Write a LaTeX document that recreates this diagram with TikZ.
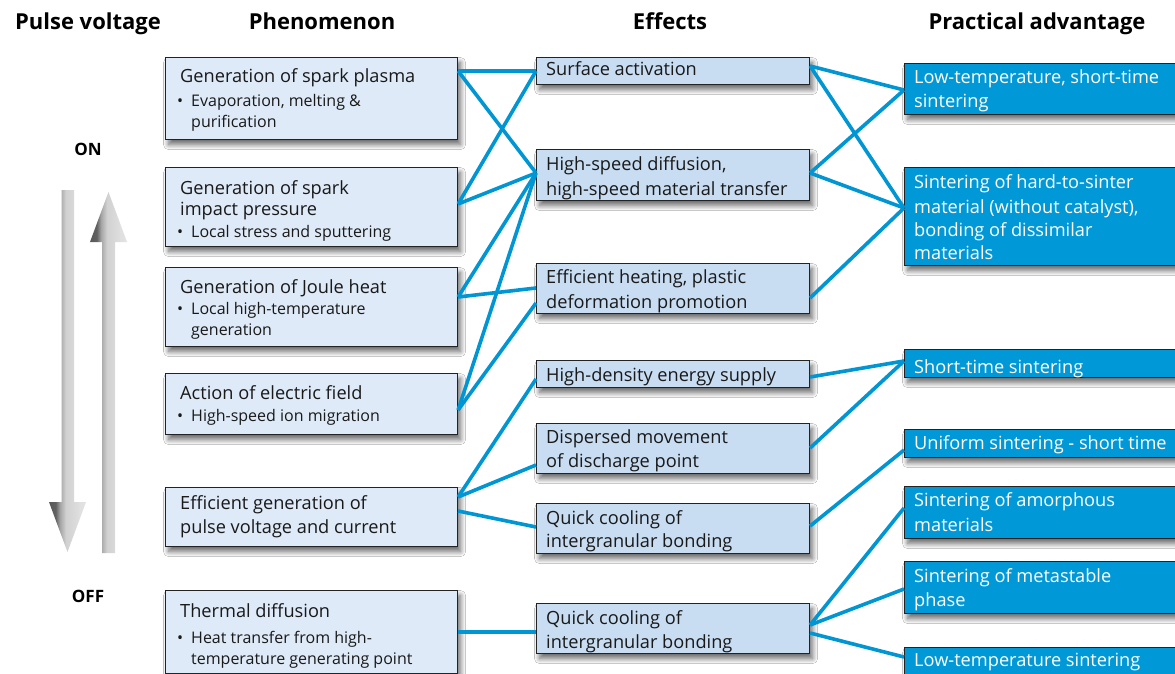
\documentclass[tikz,border=0pt]{standalone}
\usepackage{fontspec}
\setmainfont{Open Sans}
\usetikzlibrary{calc,shadows.blur}
\definecolor{lnk}{RGB}{0,150,212}
\definecolor{pfill}{RGB}{222,234,248}
\definecolor{efill}{RGB}{200,220,242}
\definecolor{afill}{RGB}{0,152,214}
\definecolor{bord}{RGB}{35,35,35}
\pgfdeclarehorizontalshading{arrowshade}{100bp}{color(0bp)=(black!75); color(34bp)=(black!62); color(40bp)=(black!35); color(48bp)=(black!18); color(68bp)=(black!12); color(100bp)=(black!8)}
\tikzset{
 box/.style={draw=bord, line width=1.1pt, anchor=north west, inner sep=0pt,
   blur shadow={shadow xshift=3pt, shadow yshift=-5pt, shadow blur radius=5pt, shadow opacity=60, shadow blur steps=12}},
 pbox/.style={box, fill=pfill},
 ebox/.style={box, fill=efill},
 abox/.style={box, fill=afill},
 ttl/.style={anchor=base west, inner sep=0pt, font=\fontsize{18.2}{22}\selectfont, text=black!90, yshift=-1pt},
 sub/.style={anchor=base west, inner sep=0pt, font=\fontsize{16}{20}\selectfont, text=black!90, yshift=-1pt},
 wtx/.style={anchor=base west, inner sep=0pt, font=\fontsize{18.2}{22}\selectfont, text=white, yshift=-1pt},
 hdr/.style={anchor=base, inner sep=0pt, font=\bfseries\fontsize{22}{26}\selectfont},
 onoff/.style={anchor=base, inner sep=0pt, font=\bfseries\fontsize{17}{20}\selectfont},
 link/.style={draw=lnk, line width=3.6pt},
 grayarrow/.style={shading=arrowshade, draw=none},
}
\newcommand{\bul}{\makebox[14pt][l]{\textbullet}}
\begin{document}
\begin{tikzpicture}[x=1pt,y=-1pt]
\useasboundingbox (0,0) rectangle (1175,674);
\fill[white] (0,0) rectangle (1175,674);

% headers
\node[hdr] (h1) at (88,30) {Pulse voltage};
\node[hdr] (h2) at (322,30) {Phenomenon};
\node[hdr] (h3) at (670,30) {Effects};
\node[hdr] (h4) at (1037,30) {Practical advantage};
\node[onoff] (on) at (88,156) {ON};
\node[onoff] (off) at (88,602) {OFF};

% gray arrows
\shade[grayarrow] (61.5,190) -- (74,190) -- (74,502) -- (86,502) -- (67.5,552) -- (49,502) -- (61.5,502) -- cycle;
\shade[grayarrow] (102,553) -- (115,553) -- (115,242) -- (127,242) -- (108.5,192) -- (90,242) -- (102,242) -- cycle;

% phenomenon boxes
\node[pbox, minimum width=292pt, minimum height=82pt] (p1) at (165,57) {};
\node[pbox, minimum width=292pt, minimum height=79pt] (p2) at (165,167) {};
\node[pbox, minimum width=292pt, minimum height=79pt] (p3) at (165,267) {};
\node[pbox, minimum width=292pt, minimum height=61pt] (p4) at (165,373) {};
\node[pbox, minimum width=292pt, minimum height=59pt] (p5) at (165,487) {};
\node[pbox, minimum width=292pt, minimum height=83pt] (p6) at (165,590) {};

% effects boxes
\node[ebox, minimum width=273pt, minimum height=27pt] (sa) at (536,57) {};
\node[ebox, minimum width=273pt, minimum height=51pt] (hsd) at (536,149) {};
\node[ebox, minimum width=273pt, minimum height=50pt] (eh) at (536,263) {};
\node[ebox, minimum width=273pt, minimum height=27pt] (hd) at (536,360) {};
\node[ebox, minimum width=273pt, minimum height=50pt] (dm) at (536,423) {};
\node[ebox, minimum width=273pt, minimum height=50pt] (qa) at (536,503) {};
\node[ebox, minimum width=273pt, minimum height=50pt] (qb) at (536,603) {};

% advantage boxes
\node[abox, minimum width=276pt, minimum height=51pt] (lts) at (904,63) {};
\node[abox, minimum width=276pt, minimum height=98pt] (hts) at (904,167) {};
\node[abox, minimum width=276pt, minimum height=28pt] (sts) at (904,349) {};
\node[abox, minimum width=276pt, minimum height=28pt] (us) at (904,429) {};
\node[abox, minimum width=276pt, minimum height=52pt] (am) at (904,486) {};
\node[abox, minimum width=276pt, minimum height=52pt] (ms) at (904,561) {};
\node[abox, minimum width=276pt, minimum height=30pt] (lt) at (904,647) {};

% phenomenon texts
\node[ttl] (p1a) at (180,82) {Generation of spark plasma};
\node[sub] (p1b) at (177,106) {\bul Evaporation, melting \&};
\node[sub] (p1c) at (191,127) {purification};
\node[ttl] (p2a) at (180,193) {Generation of spark};
\node[ttl] (p2b) at (180,214) {impact pressure};
\node[sub] (p2c) at (177,236) {\bul Local stress and sputtering};
\node[ttl] (p3a) at (180,292) {Generation of Joule heat};
\node[sub] (p3b) at (177,313) {\bul Local high-temperature};
\node[sub] (p3c) at (191,334) {generation};
\node[ttl] (p4a) at (180,398) {Action of electric field};
\node[sub] (p4b) at (177,420) {\bul High-speed ion migration};
\node[ttl] (p5a) at (180,508) {Efficient generation of};
\node[ttl] (p5b) at (180,532) {pulse voltage and current};
\node[ttl] (p6a) at (180,616) {Thermal diffusion};
\node[sub] (p6b) at (177,642) {\bul Heat transfer from high-};
\node[sub] (p6c) at (191,663) {temperature generating point};

% effects texts
\node[ttl] (sat) at (546,75) {Surface activation};
\node[ttl] (hsda) at (546,170) {High-speed diffusion,};
\node[ttl] (hsdb) at (546,194) {high-speed material transfer};
\node[ttl] (eha) at (546,282) {Efficient heating, plastic};
\node[ttl] (ehb) at (546,307) {deformation promotion};
\node[ttl] (hdt) at (546,380) {High-density energy supply};
\node[ttl] (dma) at (546,442) {Dispersed movement};
\node[ttl] (dmb) at (546,466) {of discharge point};
\node[ttl] (qaa) at (546,523) {Quick cooling of};
\node[ttl] (qab) at (546,546) {intergranular bonding};
\node[ttl] (qba) at (546,623) {Quick cooling of};
\node[ttl] (qbb) at (546,647) {intergranular bonding};

% advantage texts
\node[wtx] (ltsa) at (914,83) {Low-temperature, short-time};
\node[wtx] (ltsb) at (914,107) {sintering};
\node[wtx] (htsa) at (914,187) {Sintering of hard-to-sinter};
\node[wtx] (htsb) at (914,212) {material (without catalyst),};
\node[wtx] (htsc) at (914,235) {bonding of dissimilar};
\node[wtx] (htsd) at (914,258) {materials};
\node[wtx] (stst) at (914,372) {Short-time sintering};
\node[wtx] (ust) at (914,448) {Uniform sintering - short time};
\node[wtx] (ama) at (914,505) {Sintering of amorphous};
\node[wtx] (amb) at (914,530) {materials};
\node[wtx] (msa) at (914,581) {Sintering of metastable};
\node[wtx] (msb) at (914,605) {phase};
\node[wtx] (ltt) at (914,665) {Low-temperature sintering};

% connectors phenomenon -> effects
\draw[link] ($(p1.north east)+(0,14)$) -- (sa.west);
\draw[link] ($(p1.north east)+(0,14)$) -- ($(hsd.north west)+(0,24)$);
\draw[link] (sa.west) -- ($(p2.north east)+(0,37)$);
\draw[link] ($(p2.north east)+(0,37)$) -- ($(hsd.north west)+(0,24)$);
\draw[link] ($(p3.north east)+(0,30)$) -- ($(hsd.north west)+(0,24)$);
\draw[link] ($(p3.north east)+(0,30)$) -- ($(eh.north west)+(0,25)$);
\draw[link] ($(p4.north east)+(0,37)$) -- ($(hsd.north west)+(0,24)$);
\draw[link] ($(p4.north east)+(0,37)$) -- ($(eh.north west)+(0,40)$);
\draw[link] ($(p5.north east)+(0,10)$) -- ($(hd.north west)+(0,19)$);
\draw[link] ($(p5.north east)+(0,10)$) -- ($(dm.north west)+(0,42)$);
\draw[link] ($(p5.north east)+(0,24)$) -- ($(qa.north west)+(0,24)$);
\draw[link] ($(p6.north east)+(0,42)$) -- ($(qb.north west)+(0,29)$);

% connectors effects -> advantages
\draw[link] ($(sa.north east)+(0,9)$) -- ($(lts.north west)+(0,27)$);
\draw[link] ($(sa.north east)+(0,9)$) -- ($(hts.north west)+(0,41)$);
\draw[link] ($(hsd.north east)+(0,24)$) -- ($(lts.north west)+(0,27)$);
\draw[link] ($(hsd.north east)+(0,24)$) -- ($(hts.north west)+(0,41)$);
\draw[link] ($(eh.north east)+(0,35)$) -- ($(hts.north west)+(0,41)$);
\draw[link] ($(hd.north east)+(0,17)$) -- ($(sts.north west)+(0,12)$);
\draw[link] ($(dm.north east)+(0,25)$) -- ($(sts.north west)+(0,12)$);
\draw[link] ($(qa.north east)+(0,23)$) -- ($(us.north west)+(0,21)$);
\draw[link] ($(qb.north east)+(0,22)$) -- ($(am.north west)+(0,22)$);
\draw[link] ($(qb.north east)+(0,22)$) -- ($(ms.north west)+(0,28)$);
\draw[link] ($(qb.north east)+(0,30)$) -- ($(lt.north west)+(0,10)$);
\end{tikzpicture}
\end{document}
